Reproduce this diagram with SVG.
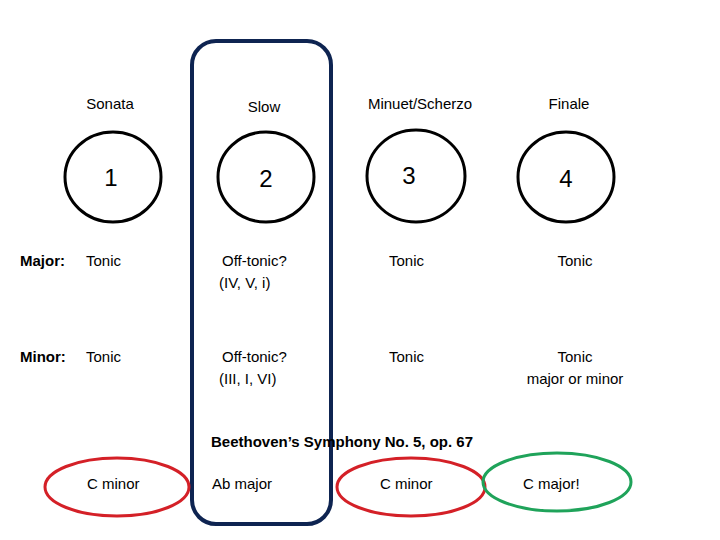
<svg xmlns="http://www.w3.org/2000/svg" width="720" height="540" viewBox="0 0 720 540">
<style>
text{font-family:"Liberation Sans","Open Sans",sans-serif;font-size:15px;fill:#000}
.num{font-size:24px;text-anchor:middle}
.hd{text-anchor:middle}
.b{font-weight:bold}
.mv{fill:none;stroke:#000;stroke-width:3}
.red{fill:none;stroke:#D42027;stroke-width:3}
.grn{fill:none;stroke:#1FA35A;stroke-width:3}
</style>
<rect width="720" height="540" fill="#fff"/>
<g id="slow-frame"><rect x="192" y="41" width="139" height="483" rx="24" fill="none" stroke="#0E2451" stroke-width="4"/></g>
<g id="mv1"><text class="hd" x="110" y="109">Sonata</text><ellipse class="mv" cx="113" cy="177" rx="48" ry="45"/><text class="num" x="111" y="186">1</text></g>
<g id="mv2"><text class="hd" x="264" y="112">Slow</text><ellipse class="mv" cx="266" cy="177" rx="48" ry="45"/><text class="num" x="266" y="187">2</text></g>
<g id="mv3"><text class="hd" x="420" y="109">Minuet/Scherzo</text><ellipse class="mv" cx="416" cy="176" rx="49" ry="46"/><text class="num" x="409" y="184">3</text></g>
<g id="mv4"><text class="hd" x="569" y="109">Finale</text><ellipse class="mv" cx="566" cy="177" rx="48" ry="45"/><text class="num" x="566" y="187">4</text></g>
<g id="major">
<text class="b" x="20" y="266">Major:</text>
<text x="86" y="266">Tonic</text>
<text x="222" y="266">Off-tonic?</text>
<text x="219" y="288">(IV, V, i)</text>
<text x="389" y="266">Tonic</text>
<text class="hd" x="575" y="266">Tonic</text>
</g>
<g id="minor">
<text class="b" x="20" y="362">Minor:</text>
<text x="86" y="362">Tonic</text>
<text x="222" y="362">Off-tonic?</text>
<text x="219" y="384">(III, I, VI)</text>
<text x="389" y="362">Tonic</text>
<text class="hd" x="575" y="362">Tonic</text>
<text class="hd" x="575" y="384">major or minor</text>
</g>
<g id="title"><text class="b" x="211" y="447" font-size="14.6">Beethoven’s Symphony No. 5, op. 67</text></g>
<g id="k1"><ellipse class="red" cx="117" cy="487" rx="72" ry="29"/><text x="87" y="489">C minor</text></g>
<g id="k2"><text x="212" y="489">Ab major</text></g>
<g id="k3"><ellipse class="red" cx="411" cy="487" rx="74" ry="29"/><text x="380" y="489">C minor</text></g>
<g id="k4"><ellipse class="grn" cx="557" cy="482" rx="74" ry="29"/><text x="523" y="489">C major!</text></g>
<g id="connectors"/>
</svg>
